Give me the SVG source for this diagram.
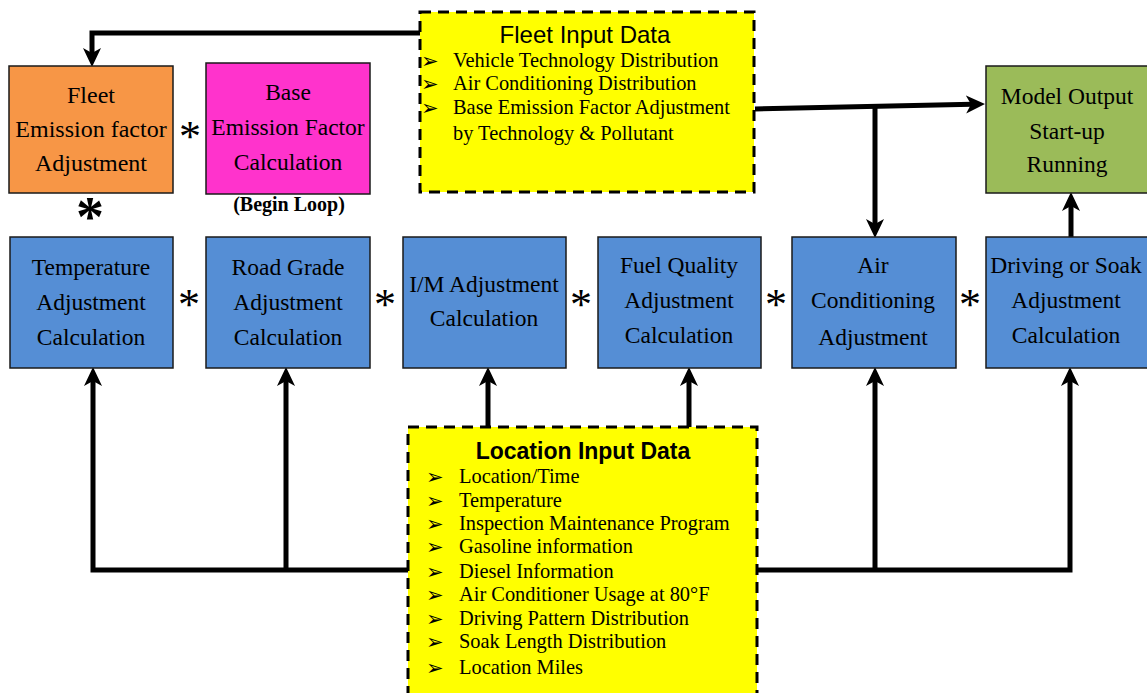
<svg xmlns="http://www.w3.org/2000/svg" width="1147" height="693" viewBox="0 0 1147 693">
<defs>
<style>
.box{stroke:#1a1a1a;stroke-width:1.5}
.blue{fill:#558ED5}
.dash{fill:#FFFF00;stroke:#000;stroke-width:3;stroke-dasharray:11 7}
.t{font-family:"Liberation Serif",serif;font-size:23.5px;fill:#000;text-anchor:middle}
.li{font-family:"Liberation Serif",serif;font-size:20.4px;fill:#000}
.bu{font-family:"DejaVu Sans",sans-serif;font-size:21px;fill:#000}
.ast{font-family:"Liberation Serif",serif;font-size:44px;fill:#000;text-anchor:middle}
.conn{fill:none;stroke:#000;stroke-width:5;stroke-linejoin:miter}
</style>
<marker id="ah" markerUnits="userSpaceOnUse" markerWidth="20" markerHeight="20" viewBox="0 0 20 20" refX="6" refY="10" orient="auto">
<path d="M0,1 L19,10 L0,19 L5,10 Z" fill="#000"/>
</marker>
</defs>
<rect width="1147" height="693" fill="#fff"/>

<g id="connectors">
<path class="conn" d="M420,33 H92 V54" marker-end="url(#ah)"/>
<path class="conn" d="M755,109 L972,104.3" marker-end="url(#ah)"/>
<path class="conn" d="M875,107 V225" marker-end="url(#ah)"/>
<path class="conn" d="M1071,237 V205" marker-end="url(#ah)"/>
<path class="conn" d="M408,570 H93 V380" marker-end="url(#ah)"/>
<path class="conn" d="M286,570 V380" marker-end="url(#ah)"/>
<path class="conn" d="M757,570 H1070 V380" marker-end="url(#ah)"/>
<path class="conn" d="M875,570 V380" marker-end="url(#ah)"/>
<path class="conn" d="M488,427 V380" marker-end="url(#ah)"/>
<path class="conn" d="M689,427 V380" marker-end="url(#ah)"/>
</g>

<g id="fleet-emission">
<rect class="box" x="9" y="66" width="164" height="127" fill="#F79646"/>
<text class="t" x="91" y="103" style="font-size:24px">Fleet</text>
<text class="t" x="91" y="137" style="font-size:24px">Emission factor</text>
<text class="t" x="91" y="171" style="font-size:24px">Adjustment</text>
</g>

<g id="base-emission">
<rect class="box" x="206" y="63" width="164" height="131" fill="#FF33CC"/>
<text class="t" x="288" y="100">Base</text>
<text class="t" x="288" y="135">Emission Factor</text>
<text class="t" x="288" y="170">Calculation</text>
<text x="289" y="211" style="font-family:'Liberation Serif',serif;font-size:20px;font-weight:bold;text-anchor:middle">(Begin Loop)</text>
</g>

<g id="fleet-input">
<rect class="dash" x="420" y="12" width="334" height="180"/>
<text x="585" y="43" style="font-family:'Liberation Sans',sans-serif;font-size:24px;text-anchor:middle">Fleet Input Data</text>
<text class="bu" x="421" y="68">➢</text>
<text class="li" x="453" y="67">Vehicle Technology Distribution</text>
<text class="bu" x="421" y="91">➢</text>
<text class="li" x="453" y="90">Air Conditioning Distribution</text>
<text class="bu" x="421" y="115">➢</text>
<text class="li" x="453" y="114">Base Emission Factor Adjustment</text>
<text class="li" x="453" y="140">by Technology &amp; Pollutant</text>
</g>

<g id="model-output">
<rect class="box" x="986" y="66" width="170" height="127" fill="#9BBB59"/>
<text class="t" x="1067" y="104">Model Output</text>
<text class="t" x="1067" y="139">Start-up</text>
<text class="t" x="1067" y="172">Running</text>
</g>

<g id="temperature">
<rect class="box blue" x="10" y="237" width="163" height="131"/>
<text class="t" x="91" y="275">Temperature</text>
<text class="t" x="91" y="310">Adjustment</text>
<text class="t" x="91" y="345">Calculation</text>
</g>

<g id="road-grade">
<rect class="box blue" x="206" y="237" width="164" height="131"/>
<text class="t" x="288" y="275">Road Grade</text>
<text class="t" x="288" y="310">Adjustment</text>
<text class="t" x="288" y="345">Calculation</text>
</g>

<g id="im">
<rect class="box blue" x="403" y="237" width="163" height="131"/>
<text class="t" x="484" y="292">I/M Adjustment</text>
<text class="t" x="484" y="326">Calculation</text>
</g>

<g id="fuel-quality">
<rect class="box blue" x="598" y="237" width="163" height="131"/>
<text class="t" x="679" y="273">Fuel Quality</text>
<text class="t" x="679" y="308">Adjustment</text>
<text class="t" x="679" y="343">Calculation</text>
</g>

<g id="air-conditioning">
<rect class="box blue" x="792" y="237" width="164" height="131"/>
<text class="t" x="873" y="273">Air</text>
<text class="t" x="873" y="308">Conditioning</text>
<text class="t" x="873" y="345">Adjustment</text>
</g>

<g id="driving-soak">
<rect class="box blue" x="986" y="237" width="170" height="131"/>
<text class="t" x="1066" y="273">Driving or Soak</text>
<text class="t" x="1066" y="308">Adjustment</text>
<text class="t" x="1066" y="343">Calculation</text>
</g>

<g id="location-input">
<rect class="dash" x="408" y="427" width="349" height="290"/>
<text x="583" y="459" style="font-family:'Liberation Sans',sans-serif;font-size:23px;font-weight:bold;text-anchor:middle">Location Input Data</text>
<text class="bu" x="426" y="484">➢</text><text class="li" x="459" y="483">Location/Time</text>
<text class="bu" x="426" y="508">➢</text><text class="li" x="459" y="507">Temperature</text>
<text class="bu" x="426" y="531">➢</text><text class="li" x="459" y="530">Inspection Maintenance Program</text>
<text class="bu" x="426" y="554">➢</text><text class="li" x="459" y="553">Gasoline information</text>
<text class="bu" x="426" y="579">➢</text><text class="li" x="459" y="578">Diesel Information</text>
<text class="bu" x="426" y="602">➢</text><text class="li" x="459" y="601">Air Conditioner Usage at 80°F</text>
<text class="bu" x="426" y="626">➢</text><text class="li" x="459" y="625">Driving Pattern Distribution</text>
<text class="bu" x="426" y="649">➢</text><text class="li" x="459" y="648">Soak Length Distribution</text>
<text class="bu" x="426" y="675">➢</text><text class="li" x="459" y="674">Location Miles</text>
</g>

<g id="operators">
<text class="ast" x="190" y="151">*</text>
<text class="ast" x="90" y="236" style="font-size:56px;font-weight:bold">*</text>
<text class="ast" x="189" y="319">*</text>
<text class="ast" x="385" y="319">*</text>
<text class="ast" x="581" y="319">*</text>
<text class="ast" x="776" y="319">*</text>
<text class="ast" x="970" y="319">*</text>
</g>
</svg>
